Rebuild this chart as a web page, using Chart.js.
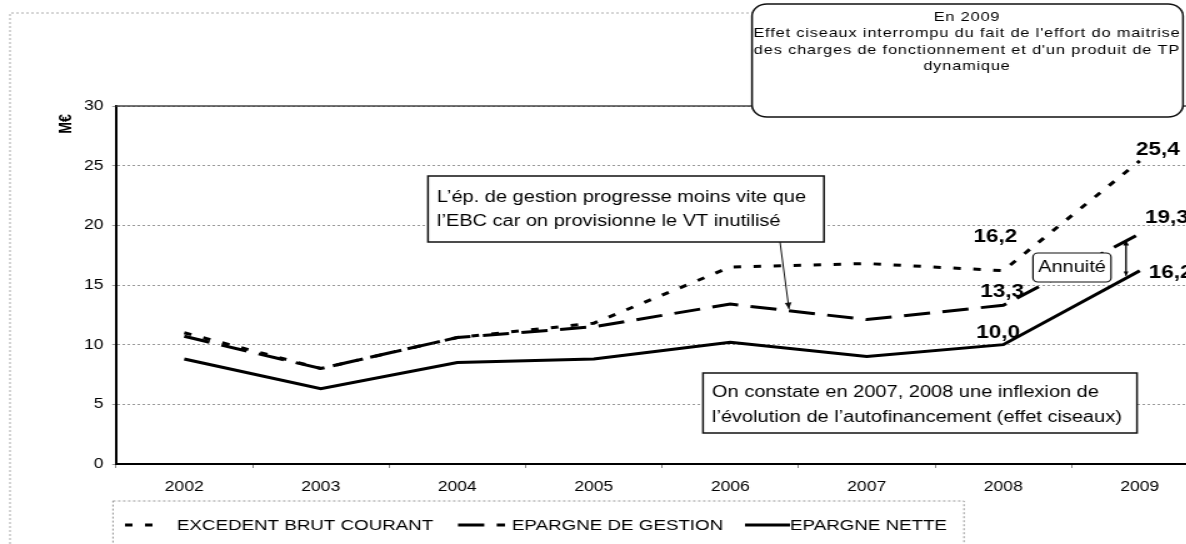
<!DOCTYPE html>
<html>
<head>
<meta charset="utf-8">
<script src="https://cdn.jsdelivr.net/npm/chart.js@4"></script>
<style>
  html, body { margin: 0; padding: 0; overflow: hidden; background: #fff; width: 1186px; height: 544px; }
  /* the scanned original is stretched sideways, so the whole chart is drawn narrow and widened */
  #wrap { position: absolute; left: 0; top: 0; width: 980px; height: 544px; transform: scaleX(1.25); transform-origin: 0 0; }
</style>
</head>
<body>
<div id="wrap"><canvas id="myChart"></canvas></div>
<script>
const years = ['2002', '2003', '2004', '2005', '2006', '2007', '2008', '2009'];
const ebc = [11.0, 8.0, 10.6, 11.8, 16.5, 16.8, 16.2, 25.4];
const epargneGestion = [10.7, 8.0, 10.6, 11.5, 13.4, 12.1, 13.3, 19.3];
const epargneNette = [8.8, 6.3, 8.5, 8.8, 10.2, 9.0, 10.0, 16.2];
const seriesNames = ['EXCEDENT BRUT COURANT', 'EPARGNE DE GESTION', 'EPARGNE NETTE'];
const yMin = 0;
const yMax = 30;
const yStep = 5;

const SX = 1.25;
const fx = v => v / SX;
const FONT = '"Liberation Sans", Arial, sans-serif';

function arrow(ctx, x1, y1, x2, y2, size) {
    ctx.beginPath();
    ctx.moveTo(x1, y1);
    ctx.lineTo(x2, y2);
    ctx.stroke();
    const a = Math.atan2(y2 - y1, x2 - x1);
    ctx.beginPath();
    ctx.moveTo(x2, y2);
    ctx.lineTo(x2 - size * Math.cos(a - 0.4), y2 - size * Math.sin(a - 0.4));
    ctx.lineTo(x2 - size * Math.cos(a + 0.4), y2 - size * Math.sin(a + 0.4));
    ctx.closePath();
    ctx.fill();
}

function textBox(ctx, x0, y0, x1, y1, lines, tx, lineYs) {
    ctx.fillStyle = '#fff';
    ctx.fillRect(fx(x0), y0, fx(x1) - fx(x0), y1 - y0);
    ctx.strokeStyle = '#111';
    ctx.lineWidth = 1.5;
    ctx.strokeRect(fx(x0), y0, fx(x1) - fx(x0), y1 - y0);
    ctx.fillStyle = '#000';
    ctx.font = '16px ' + FONT;
    ctx.textAlign = 'left';
    ctx.textBaseline = 'middle';
    lines.forEach((t, i) => ctx.fillText(t, fx(tx), lineYs[i]));
}

const decor = {
    id: 'decor',
    beforeDraw(chart) {
        const ctx = chart.ctx;
        ctx.save();
        ctx.fillStyle = '#fff';
        ctx.fillRect(0, 0, chart.width, chart.height);
        // dotted frame of the picture
        ctx.strokeStyle = '#aaa';
        ctx.lineWidth = 1;
        ctx.setLineDash([2, 2]);
        ctx.beginPath();
        ctx.moveTo(fx(10), chart.height);
        ctx.lineTo(fx(10), 13);
        ctx.lineTo(chart.width, 13);
        ctx.stroke();
        ctx.restore();
    },
    afterDatasetsDraw(chart) {
        const ctx = chart.ctx;
        const area = chart.chartArea;
        const xs = chart.scales.x;
        const ys = chart.scales.y;
        ctx.save();

        // top border of the plot
        ctx.strokeStyle = '#444';
        ctx.lineWidth = 1.5;
        ctx.beginPath();
        ctx.moveTo(area.left, area.top);
        ctx.lineTo(area.right, area.top);
        ctx.stroke();

        // axis unit
        ctx.save();
        ctx.translate(fx(66), 124);
        ctx.rotate(-Math.PI / 2);
        ctx.fillStyle = '#000';
        ctx.font = 'bold 14px ' + FONT;
        ctx.textAlign = 'center';
        ctx.textBaseline = 'middle';
        ctx.fillText('M€', 0, 0);
        ctx.restore();

        // rounded note, top right
        ctx.fillStyle = '#fff';
        ctx.strokeStyle = '#111';
        ctx.lineWidth = 1.5;
        ctx.beginPath();
        ctx.roundRect(fx(752), 4, fx(1183) - fx(752), 113, 12);
        ctx.fill();
        ctx.stroke();
        ctx.fillStyle = '#000';
        ctx.font = '13px ' + FONT;
        ctx.letterSpacing = '0.7px';
        ctx.textAlign = 'center';
        ctx.textBaseline = 'middle';
        const noteLines = [
            'En 2009',
            "Effet ciseaux interrompu du fait de l'effort do maitrise",
            "des charges de fonctionnement et d'un produit de TP",
            'dynamique'
        ];
        noteLines.forEach((t, i) => ctx.fillText(t, fx(967), 17 + i * 16.5));
        ctx.letterSpacing = '0px';

        // note boxes
        textBox(ctx, 428, 176, 824, 242,
            ['L\u2019ép. de gestion progresse moins vite que', 'l\u2019EBC car on provisionne le VT inutilisé'],
            437, [198, 222]);
        ctx.strokeStyle = '#111';
        ctx.fillStyle = '#111';
        ctx.lineWidth = 1;
        arrow(ctx, fx(780), 242, fx(789), 309, 7);

        textBox(ctx, 703, 373, 1137, 433,
            ['On constate en 2007, 2008 une inflexion de', 'l\u2019évolution de l\u2019autofinancement (effet ciseaux)'],
            712, [393, 418]);

        // annuity box and arrow
        ctx.fillStyle = '#fff';
        ctx.strokeStyle = '#111';
        ctx.lineWidth = 1.2;
        ctx.beginPath();
        ctx.roundRect(fx(1033), 253, fx(1111) - fx(1033), 29, 4);
        ctx.fill();
        ctx.stroke();
        ctx.fillStyle = '#000';
        ctx.font = '16px ' + FONT;
        ctx.textAlign = 'center';
        ctx.fillText('Annuité', fx(1072), 268);
        ctx.lineWidth = 1;
        arrow(ctx, fx(1126), 274, fx(1126), 240, 6);
        arrow(ctx, fx(1126), 245, fx(1126), 276, 5);

        // value labels at 2008 and 2009
        const valueLabels = [
            {ds: 0, i: 6, dx: -8, dy: -34},
            {ds: 1, i: 6, dx: -1, dy: -13},
            {ds: 2, i: 6, dx: -5, dy: -12},
            {ds: 0, i: 7, dx: 18, dy: -11},
            {ds: 1, i: 7, dx: 27, dy: -16},
            {ds: 2, i: 7, dx: 31, dy: 2}
        ];
        ctx.font = 'bold 18px ' + FONT;
        ctx.fillStyle = '#000';
        ctx.textAlign = 'center';
        ctx.textBaseline = 'middle';
        valueLabels.forEach(l => {
            const v = chart.data.datasets[l.ds].data[l.i];
            const px = xs.getPixelForValue(l.i) + fx(l.dx);
            const py = ys.getPixelForValue(v) + l.dy;
            ctx.fillText(v.toFixed(1).replace('.', ','), px, py);
        });

        // legend
        ctx.strokeStyle = '#999';
        ctx.lineWidth = 1;
        ctx.setLineDash([2, 2]);
        ctx.strokeRect(fx(113), 501, fx(964) - fx(113), 60);
        const legendPos = [
            {x0: 125, x1: 163, tx: 177},
            {x0: 458, x1: 505, tx: 512},
            {x0: 745, x1: 790, tx: 790}
        ];
        ctx.font = '15px ' + FONT;
        ctx.textAlign = 'left';
        ctx.fillStyle = '#000';
        chart.data.datasets.forEach((d, k) => {
            const p = legendPos[k];
            ctx.strokeStyle = d.borderColor;
            ctx.lineWidth = d.borderWidth;
            ctx.setLineDash(d.borderDash || []);
            ctx.beginPath();
            ctx.moveTo(fx(p.x0), 525);
            ctx.lineTo(fx(p.x1), 525);
            ctx.stroke();
            ctx.fillText(d.label, fx(p.tx), 526);
        });
        ctx.restore();
    }
};

const data = {
    labels: years,
    datasets: [
        {
            label: seriesNames[0],
            data: ebc,
            borderColor: '#000',
            borderWidth: 3,
            borderDash: [6, 10],
            pointRadius: 0,
            fill: false
        },
        {
            label: seriesNames[1],
            data: epargneGestion,
            borderColor: '#000',
            borderWidth: 3,
            borderDash: [21, 10],
            pointRadius: 0,
            fill: false
        },
        {
            label: seriesNames[2],
            data: epargneNette,
            borderColor: '#000',
            borderWidth: 3,
            pointRadius: 0,
            fill: false
        }
    ]
};

const config = {
    type: 'line',
    data: data,
    options: {
        responsive: true,
        maintainAspectRatio: false,
        animation: false,
        layout: {
            padding: {top: 106, right: 980 - fx(1208), bottom: 0, left: 0}
        },
        plugins: {
            legend: {display: false},
            tooltip: {enabled: false}
        },
        scales: {
            x: {
                offset: true,
                grid: {offset: true, drawOnChartArea: false, tickLength: 4, color: '#888'},
                border: {color: '#000', width: 2},
                ticks: {padding: 11, color: '#000', font: {family: FONT, size: 14}},
                afterFit: s => { s.height = 80; }
            },
            y: {
                min: yMin,
                max: yMax,
                ticks: {stepSize: yStep, padding: 7, color: '#000', font: {family: FONT, size: 14}},
                grid: {color: '#999', tickLength: 3, lineWidth: 1},
                border: {color: '#000', width: 2, dash: [2, 2]},
                afterFit: s => { s.width = fx(116); }
            }
        }
    },
    plugins: [decor]
};

const myChart = new Chart(document.getElementById('myChart'), config);
</script>
</body>
</html>
